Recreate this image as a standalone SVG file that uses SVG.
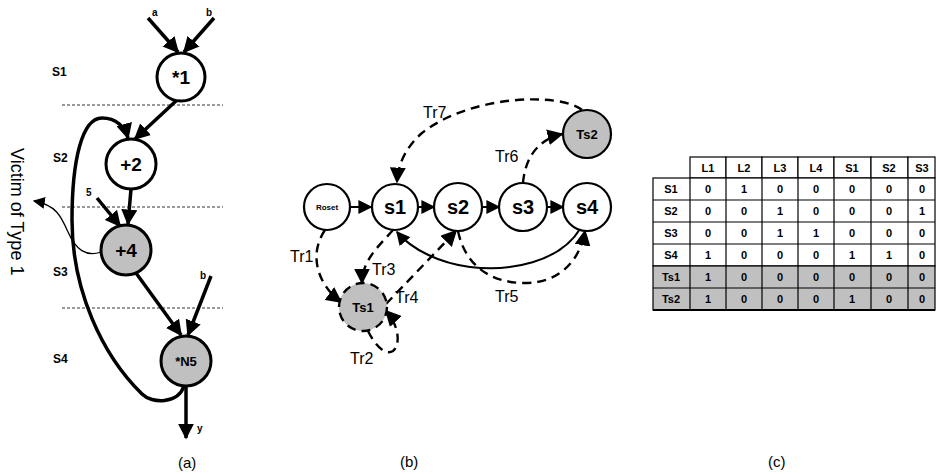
<svg xmlns="http://www.w3.org/2000/svg" width="936" height="474" viewBox="0 0 936 474">
<defs>
<style>
text{font-family:"Liberation Sans",Arial,sans-serif;fill:#000}
.b{font-weight:bold}
.na{fill:#fff;stroke:#000;stroke-width:3}
.ng{fill:#c0c0c0;stroke:#000;stroke-width:3}
.nb{fill:#fff;stroke:#000;stroke-width:2.2}
.nbg{fill:#c0c0c0;stroke:#000;stroke-width:2.2}
.ta{fill:none;stroke:#000;stroke-width:3.5}
.tn{fill:none;stroke:#000;stroke-width:1.3}
.sl{fill:none;stroke:#000;stroke-width:2}
.dl{fill:none;stroke:#000;stroke-width:2.4;stroke-dasharray:9 6}
.hd{fill:none;stroke:#000;stroke-width:0.8;stroke-dasharray:3 2}
.cw{fill:#fff;stroke:#000;stroke-width:1.2}
.cg{fill:#c0c0c0;stroke:#000;stroke-width:1.2}
.ct{font-size:11px;font-weight:bold;text-anchor:middle}
</style>
<marker id="ha" markerUnits="userSpaceOnUse" markerWidth="16" markerHeight="16" viewBox="0 0 10 10" refX="9" refY="5" orient="auto"><path d="M0,0 L10,5 L0,10 z" fill="#000"/></marker>
<marker id="hb" markerUnits="userSpaceOnUse" markerWidth="12" markerHeight="12" viewBox="0 0 10 10" refX="9" refY="5" orient="auto"><path d="M0,0 L10,5 L0,10 z" fill="#000"/></marker>
<marker id="hc" markerUnits="userSpaceOnUse" markerWidth="14" markerHeight="14" viewBox="0 0 10 10" refX="9" refY="5" orient="auto"><path d="M0,0 L10,5 L0,10 z" fill="#000"/></marker>
</defs>
<rect width="936" height="474" fill="#fff"/>

<!-- Panel (a) -->
<g id="a-stages">
<line class="hd" x1="62" y1="105" x2="223" y2="105"/>
<line class="hd" x1="62" y1="207" x2="223" y2="207"/>
<line class="hd" x1="62" y1="308" x2="223" y2="308"/>
<text class="b" x="52" y="76" font-size="12">S1</text>
<text class="b" x="53" y="162" font-size="12">S2</text>
<text class="b" x="53" y="276" font-size="12">S3</text>
<text class="b" x="53" y="363" font-size="12">S4</text>
<text x="11" y="148" font-size="18" transform="rotate(90 11 148)">Victim of Type 1</text>
<text class="b" x="152" y="16" font-size="10">a</text>
<text class="b" x="206" y="16" font-size="10">b</text>
<text class="b" x="86" y="196" font-size="10">5</text>
<text class="b" x="200" y="279" font-size="10">b</text>
<text class="b" x="197" y="432" font-size="10">y</text>
<text x="178" y="468" font-size="15">(a)</text>
</g>
<g id="a-connectors">
<line class="ta" x1="148" y1="18" x2="178" y2="52" marker-end="url(#ha)"/>
<line class="ta" x1="214" y1="18" x2="184" y2="52" marker-end="url(#ha)"/>
<line class="ta" x1="177" y1="100" x2="135" y2="139" marker-end="url(#ha)"/>
<path class="ta" d="M184 386 C178 404 152 404 142 394 C102 355 72 290 72 220 C72 160 82 118 102 118 C116 118 125 127 128 138" marker-end="url(#ha)"/>
<line class="ta" x1="131" y1="189" x2="128" y2="224" marker-end="url(#ha)"/>
<line class="ta" x1="97" y1="198" x2="120" y2="226" marker-end="url(#ha)"/>
<line class="ta" x1="136" y1="273" x2="181" y2="335" marker-end="url(#ha)"/>
<line class="ta" x1="211" y1="276" x2="188" y2="335" marker-end="url(#ha)"/>
<line class="ta" x1="186" y1="386" x2="186" y2="438" marker-end="url(#ha)"/>
<path class="tn" d="M101 252 C86 257 76 250 68 232 C61 216 56 205 34 201" marker-end="url(#hb)"/>
</g>
<g id="n1"><circle class="na" cx="181" cy="77" r="24"/><text class="b" x="181" y="84" font-size="19" text-anchor="middle">*1</text></g>
<g id="n2"><circle class="na" cx="131" cy="164" r="25"/><text class="b" x="131" y="171" font-size="19" text-anchor="middle">+2</text></g>
<g id="n4"><circle class="ng" cx="126" cy="250" r="25"/><text class="b" x="126" y="257" font-size="19" text-anchor="middle">+4</text></g>
<g id="n5"><circle class="ng" cx="186" cy="361" r="25"/><text class="b" x="186" y="366" font-size="13" text-anchor="middle">*N5</text></g>

<!-- Panel (b) -->
<g id="b-connectors">
<line class="sl" x1="350" y1="207" x2="371" y2="207" marker-end="url(#hc)"/>
<line class="sl" x1="418" y1="207" x2="434" y2="207" marker-end="url(#hc)"/>
<line class="sl" x1="482" y1="207" x2="499" y2="207" marker-end="url(#hc)"/>
<line class="sl" x1="547" y1="207" x2="563" y2="207" marker-end="url(#hc)"/>
<path class="sl" d="M580 229 C560 262 510 272 470 267 C440 263 412 250 397 232" marker-end="url(#hc)"/>
<path class="dl" d="M582 110 C560 92 470 95 422 133 C405 148 398 165 397 182" marker-end="url(#ha)"/>
<path class="dl" d="M523 183 C525 160 536 140 562 134" marker-end="url(#ha)"/>
<path class="dl" d="M325 230 C308 255 318 285 341 302" marker-end="url(#ha)"/>
<path class="dl" d="M393 230 C380 245 362 260 362 283" marker-end="url(#ha)"/>
<path class="dl" d="M386 304 L456 231" marker-end="url(#ha)"/>
<path class="dl" d="M368 331 C375 345 385 356 393 351 C401 345 399 325 386 311" marker-end="url(#ha)"/>
<path class="dl" d="M458 231 C465 265 490 283 525 283 C560 283 580 260 585 231" marker-end="url(#ha)"/>
<text x="423" y="118" font-size="16">Tr7</text>
<text x="495" y="162" font-size="16">Tr6</text>
<text x="290" y="262" font-size="16">Tr1</text>
<text x="372" y="275" font-size="16">Tr3</text>
<text x="395" y="303" font-size="16">Tr4</text>
<text x="350" y="364" font-size="16">Tr2</text>
<text x="495" y="302" font-size="16">Tr5</text>
<text x="400" y="467" font-size="15">(b)</text>
</g>
<g id="roset"><circle class="nb" cx="327" cy="207" r="23"/><text class="b" x="327" y="210" font-size="8" text-anchor="middle">Roset</text></g>
<g id="s1"><circle class="nb" cx="395" cy="207" r="23"/><text class="b" x="395" y="214" font-size="20" text-anchor="middle">s1</text></g>
<g id="s2"><circle class="nb" cx="458" cy="207" r="24"/><text class="b" x="458" y="214" font-size="20" text-anchor="middle">s2</text></g>
<g id="s3"><circle class="nb" cx="523" cy="207" r="24"/><text class="b" x="523" y="214" font-size="20" text-anchor="middle">s3</text></g>
<g id="s4"><circle class="nb" cx="587" cy="207" r="24"/><text class="b" x="587" y="214" font-size="20" text-anchor="middle">s4</text></g>
<g id="ts2"><circle class="nbg" cx="587" cy="134" r="24"/><text class="b" x="587" y="139" font-size="13" text-anchor="middle">Ts2</text></g>
<g id="ts1"><circle cx="363" cy="307" r="24" fill="#c0c0c0" stroke="#000" stroke-width="2.4" stroke-dasharray="9 6"/><text class="b" x="363" y="312" font-size="13" text-anchor="middle">Ts1</text></g>

<!-- Panel (c) table -->
<g id="table">
<rect class="cw" x="690" y="157" width="36" height="21"/>
<rect class="cw" x="726" y="157" width="36" height="21"/>
<rect class="cw" x="762" y="157" width="36" height="21"/>
<rect class="cw" x="798" y="157" width="36" height="21"/>
<rect class="cw" x="834" y="157" width="37" height="21"/>
<rect class="cw" x="871" y="157" width="37" height="21"/>
<rect class="cw" x="908" y="157" width="27" height="21"/>
<rect class="cw" x="653" y="178" width="282" height="88"/>
<rect class="cg" x="653" y="266" width="282" height="44"/>
<g stroke="#000" stroke-width="1.2">
<line x1="653" y1="200" x2="935" y2="200"/>
<line x1="653" y1="222" x2="935" y2="222"/>
<line x1="653" y1="244" x2="935" y2="244"/>
<line x1="653" y1="288" x2="935" y2="288"/>
<line x1="690" y1="178" x2="690" y2="310"/>
<line x1="726" y1="178" x2="726" y2="310"/>
<line x1="762" y1="178" x2="762" y2="310"/>
<line x1="798" y1="178" x2="798" y2="310"/>
<line x1="834" y1="178" x2="834" y2="310"/>
<line x1="871" y1="178" x2="871" y2="310"/>
<line x1="908" y1="178" x2="908" y2="310"/>
</g>
<line x1="653" y1="310" x2="935" y2="310" stroke="#000" stroke-width="2"/>
<text class="ct" x="708" y="172">L1</text>
<text class="ct" x="744" y="172">L2</text>
<text class="ct" x="780" y="172">L3</text>
<text class="ct" x="816" y="172">L4</text>
<text class="ct" x="852" y="172">S1</text>
<text class="ct" x="889" y="172">S2</text>
<text class="ct" x="922" y="172">S3</text>
<text class="ct" x="671" y="193">S1</text>
<text class="ct" x="671" y="215">S2</text>
<text class="ct" x="671" y="237">S3</text>
<text class="ct" x="671" y="259">S4</text>
<text class="ct" x="671" y="281">Ts1</text>
<text class="ct" x="671" y="303">Ts2</text>
<g class="ct">
<text class="ct" x="708" y="193">0</text><text class="ct" x="744" y="193">1</text><text class="ct" x="780" y="193">0</text><text class="ct" x="816" y="193">0</text><text class="ct" x="852" y="193">0</text><text class="ct" x="889" y="193">0</text><text class="ct" x="922" y="193">0</text>
<text class="ct" x="708" y="215">0</text><text class="ct" x="744" y="215">0</text><text class="ct" x="780" y="215">1</text><text class="ct" x="816" y="215">0</text><text class="ct" x="852" y="215">0</text><text class="ct" x="889" y="215">0</text><text class="ct" x="922" y="215">1</text>
<text class="ct" x="708" y="237">0</text><text class="ct" x="744" y="237">0</text><text class="ct" x="780" y="237">1</text><text class="ct" x="816" y="237">1</text><text class="ct" x="852" y="237">0</text><text class="ct" x="889" y="237">0</text><text class="ct" x="922" y="237">0</text>
<text class="ct" x="708" y="259">1</text><text class="ct" x="744" y="259">0</text><text class="ct" x="780" y="259">0</text><text class="ct" x="816" y="259">0</text><text class="ct" x="852" y="259">1</text><text class="ct" x="889" y="259">1</text><text class="ct" x="922" y="259">0</text>
<text class="ct" x="708" y="281">1</text><text class="ct" x="744" y="281">0</text><text class="ct" x="780" y="281">0</text><text class="ct" x="816" y="281">0</text><text class="ct" x="852" y="281">0</text><text class="ct" x="889" y="281">0</text><text class="ct" x="922" y="281">0</text>
<text class="ct" x="708" y="303">1</text><text class="ct" x="744" y="303">0</text><text class="ct" x="780" y="303">0</text><text class="ct" x="816" y="303">0</text><text class="ct" x="852" y="303">1</text><text class="ct" x="889" y="303">0</text><text class="ct" x="922" y="303">0</text>
</g>
<text x="768" y="467" font-size="15">(c)</text>
</g>
</svg>
